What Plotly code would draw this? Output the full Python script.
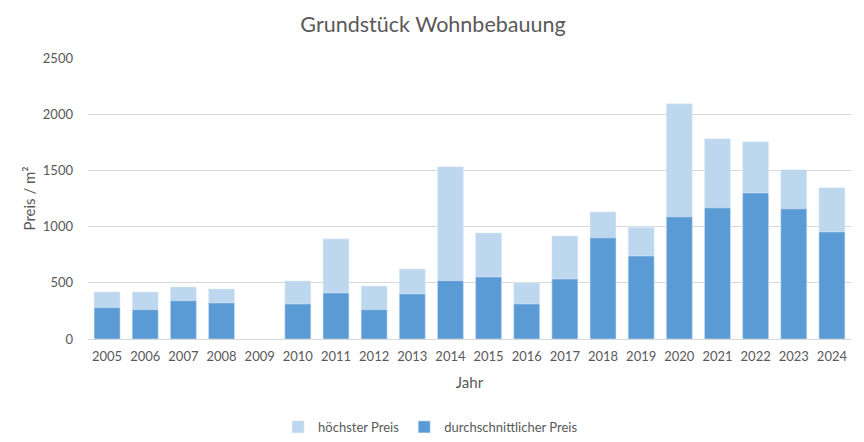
import plotly.graph_objects as go

years = [str(y) for y in range(2005, 2025)]
hoechster = [419, 419, 463, 445, None, 517, 891, 472, 623, 1532, 944, 499, 917, 1131, 995, 2093, 1781, 1755, 1505, 1345]
durchschnitt = [279, 261, 341, 321, None, 312, 410, 261, 401, 519, 552, 312, 534, 900, 739, 1087, 1167, 1300, 1158, 953]

font_family = "Lato, Open Sans, sans-serif"
grey = "#595959"

fig = go.Figure()
fig.add_trace(go.Bar(x=years, y=hoechster, name="höchster Preis", marker_color="#BDD7EE"))
fig.add_trace(go.Bar(x=years, y=durchschnitt, name="durchschnittlicher Preis", marker_color="#5B9BD5"))

fig.update_layout(
    width=856, height=434,
    barmode="overlay", bargap=0.32,
    paper_bgcolor="white", plot_bgcolor="white",
    margin=dict(l=80, r=13, t=50, b=103, autoexpand=False),
    font=dict(family=font_family, color=grey, size=13),
    title=dict(text="Grundstück Wohnbebauung", x=0.4965, xanchor="center", y=0.961, yanchor="middle",
               font=dict(size=21.5, color=grey, family=font_family)),
    legend=dict(orientation="h", x=0.449, xanchor="center", y=-0.313, yanchor="middle",
                font=dict(size=13, color=grey), traceorder="normal", itemwidth=30),
    showlegend=True,
)
fig.update_xaxes(title=dict(text="Jahr", font=dict(size=15, color=grey), standoff=14),
                 automargin=False, ticklabelstandoff=5,
                 showline=True, linecolor="#D9D9D9", linewidth=1, ticks="", showgrid=False,
                 tickfont=dict(size=13, color=grey))
fig.update_yaxes(title=dict(text="Preis / m²", font=dict(size=15, color=grey), standoff=3),
                 automargin=False, ticklabelstandoff=14,
                 range=[0, 2500], dtick=500, showgrid=True, gridcolor="#D9D9D9", gridwidth=1,
                 zeroline=False, showline=False, ticks="", tickfont=dict(size=13, color=grey))

fig.write_html("out.html")
